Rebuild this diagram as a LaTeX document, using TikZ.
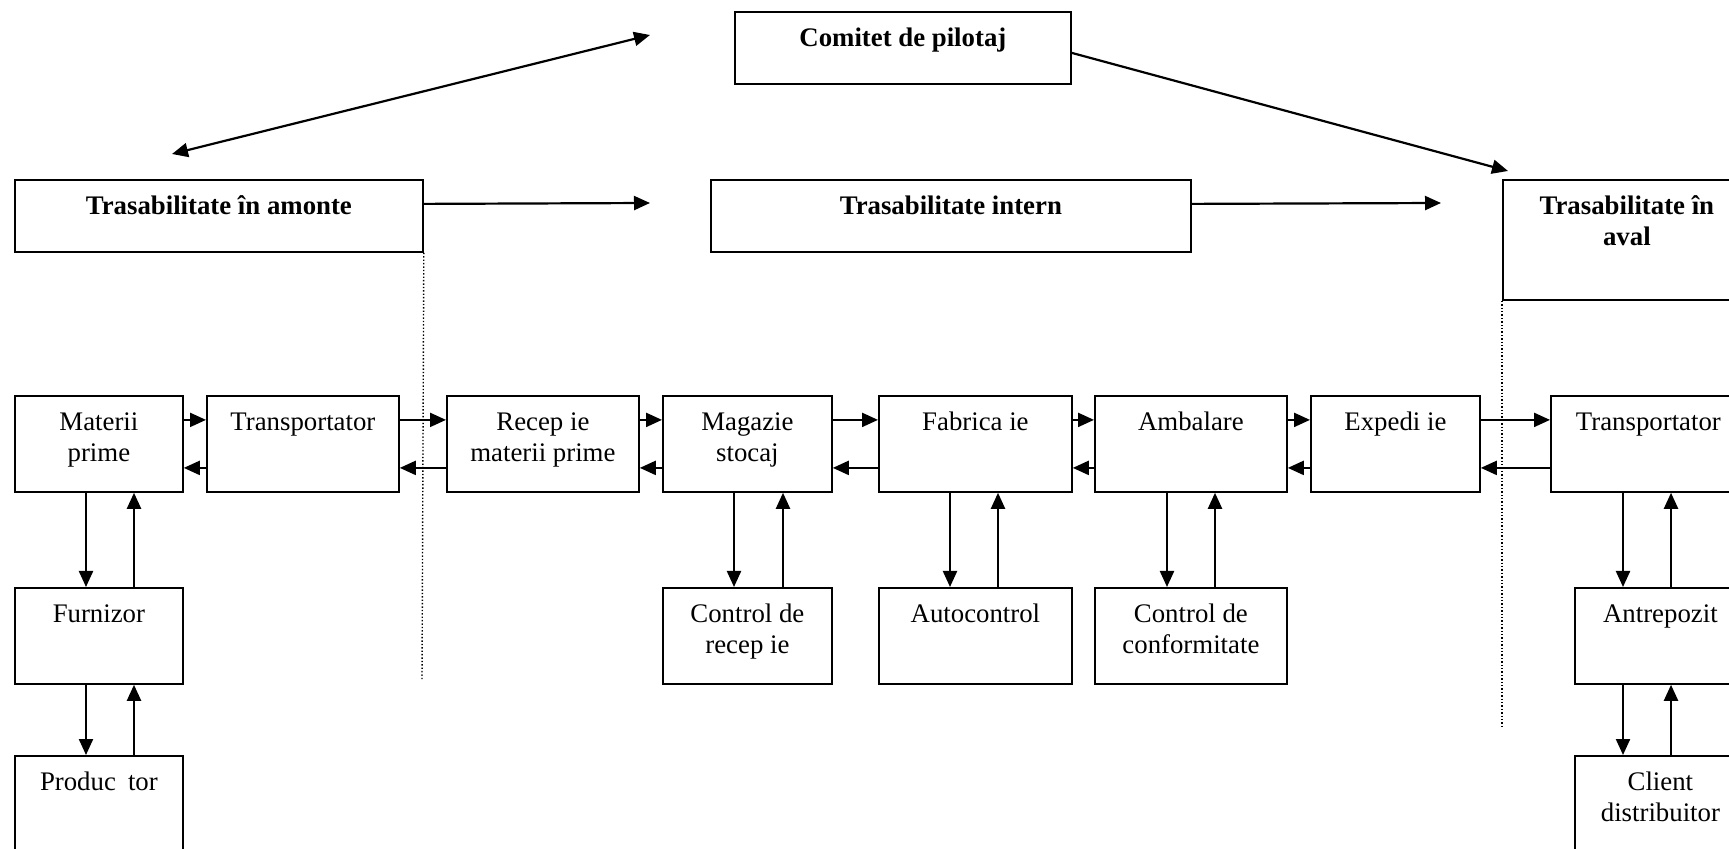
\documentclass[tikz,border=0pt]{standalone}
\usepackage{fontspec}
\setmainfont{Liberation Serif}
\usetikzlibrary{arrows.meta}
\newlength\pxu \setlength\pxu{0.5pt}
\tikzset{
  box/.style={draw, line width=0.9pt, inner sep=0pt, anchor=north west, font=\fontsize{13.4}{15.5}\selectfont},
  bbox/.style={box, font=\fontsize{13.4}{15.5}\selectfont\bfseries},
  arr/.style={line width=1.1pt, -{Triangle[length=8pt,width=7pt]}},
  darr/.style={line width=1.1pt, {Triangle[length=8pt,width=7pt]}-{Triangle[length=8pt,width=7pt]}},
  sepline/.style={line width=0.7pt, dash pattern=on 0.7pt off 1pt},
}
\newcommand{\bxt}[3]{\parbox[c][#2\pxu][t]{#1\pxu}{\centering\rule{0pt}{35\pxu}#3}}
\newcommand{\vpair}[4]{%
  \draw[arr] ([xshift=#3]#1.south west) -- ([xshift=#3]#1.south west |- #2.north);
  \draw[arr] ([xshift=#4]#1.south west |- #2.north) -- ([xshift=#4]#1.south west);}
\newcommand{\hpair}[2]{%
  \draw[arr] ([yshift=12pt]#1.east) -- ([yshift=12pt]#2.west);
  \draw[arr] ([yshift=-12pt]#2.west) -- ([yshift=-12pt]#1.east);}
\begin{document}
\begin{tikzpicture}[x=0.5pt, y=-0.5pt]
\useasboundingbox (0,0) rectangle (1729,849);
% top boxes
\node[bbox] (comitet) at (734,11) {\bxt{336}{72}{Comitet de pilotaj}};
\node[bbox] (amonte) at (14,179) {\bxt{408}{72}{Trasabilitate în amonte}};
\node[bbox] (intern) at (710,179) {\bxt{480}{72}{Trasabilitate intern}};
\node[bbox] (aval) at (1502,179) {\bxt{248}{120}{Trasabilitate în\\aval}};
% main row
\node[box] (mat) at (14,395) {\bxt{168}{96}{Materii\\prime}};
\node[box] (tr1) at (206,395) {\bxt{192}{96}{Transportator}};
\node[box] (rec) at (446,395) {\bxt{192}{96}{Recep ie\\materii prime}};
\node[box] (mag) at (662,395) {\bxt{169}{96}{Magazie\\stocaj}};
\node[box] (fab) at (878,395) {\bxt{193}{96}{Fabrica ie}};
\node[box] (amb) at (1094,395) {\bxt{192}{96}{Ambalare}};
\node[box] (exp) at (1310,395) {\bxt{169}{96}{Expedi ie}};
\node[box] (tr2) at (1550,395) {\bxt{195}{96}{Transportator}};
% lower boxes
\node[box] (fur) at (14,587) {\bxt{168}{96}{Furnizor}};
\node[box] (prod) at (14,755) {\bxt{168}{110}{Produc\hspace{0.45em}tor}};
\node[box] (crec) at (662,587) {\bxt{169}{96}{Control de\\recep ie}};
\node[box] (auto) at (878,587) {\bxt{193}{96}{Autocontrol}};
\node[box] (cconf) at (1094,587) {\bxt{192}{96}{Control de\\conformitate}};
\node[box] (antr) at (1574,587) {\bxt{171}{96}{Antrepozit}};
\node[box] (cli) at (1574,755) {\bxt{171}{110}{Client\\distribuitor}};
% top arrows
\coordinate (dl) at (172,154);
\coordinate (dr) at (650,35);
\draw[darr] (dl) -- (dr);
\coordinate (amE) at (650,203);
\draw[arr] ([yshift=6pt]amonte.east) -- (amE);
\coordinate (inE) at (1441,203);
\draw[arr] ([yshift=6pt]intern.east) -- (inE);
\coordinate (avT) at (1508,171);
\draw[arr] ([yshift=-2.5pt]comitet.east) -- (avT);
% dotted separators
\coordinate (sepA) at (422,680);
\draw[sepline] (amonte.south east) -- (sepA);
\coordinate (sepB) at (1502,728);
\draw[sepline] (aval.south west) -- (sepB);
% horizontal arrows
\hpair{mat}{tr1}
\hpair{tr1}{rec}
\hpair{rec}{mag}
\hpair{mag}{fab}
\hpair{fab}{amb}
\hpair{amb}{exp}
\hpair{exp}{tr2}
% vertical arrows
\vpair{mat}{fur}{36pt}{60pt}
\vpair{fur}{prod}{36pt}{60pt}
\vpair{mag}{crec}{36pt}{60.5pt}
\vpair{fab}{auto}{36pt}{60pt}
\vpair{amb}{cconf}{36.5pt}{60.5pt}
\vpair{tr2}{antr}{36.5pt}{60.5pt}
\vpair{antr}{cli}{24.5pt}{48.5pt}
\end{tikzpicture}
\end{document}
